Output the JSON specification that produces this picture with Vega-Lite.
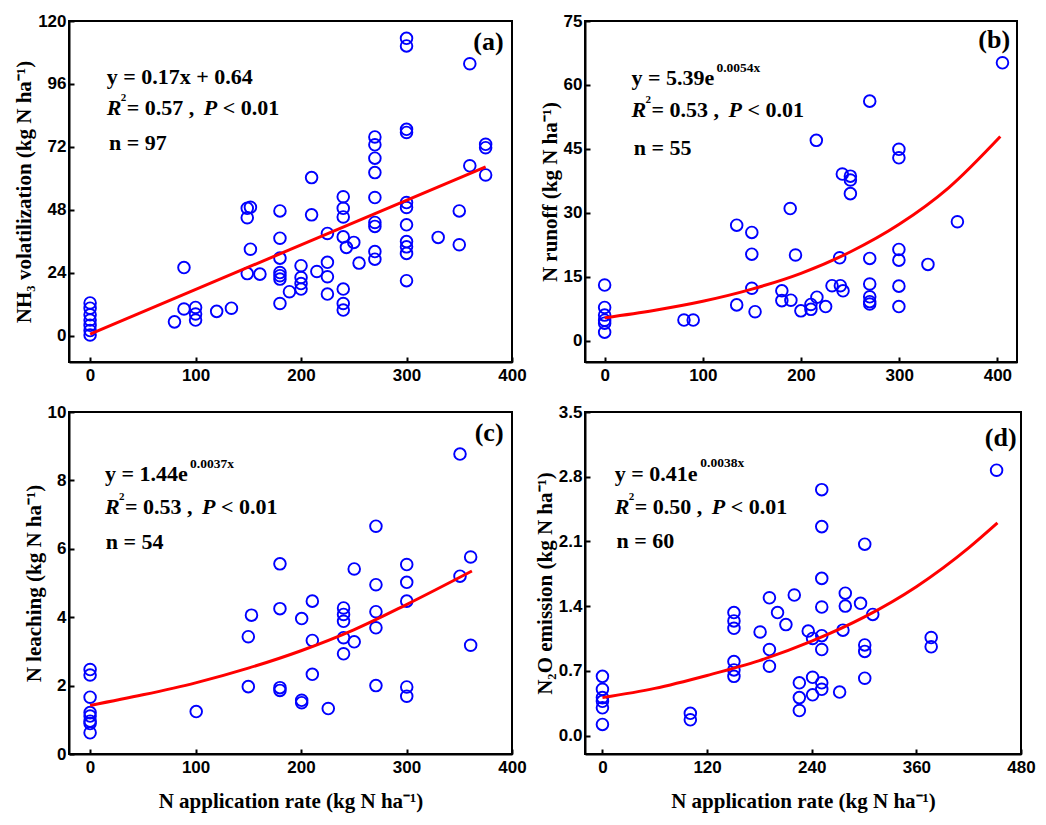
{
  "$schema": "https://vega.github.io/schema/vega-lite/v6.json",
  "padding": {"left": 12, "top": 11, "right": 5, "bottom": 5},
  "background": "white",
  "bounds": "flush",
  "columns": 2,
  "spacing": {"row": 50, "column": 73},
  "config": {
    "view": {"stroke": "black", "strokeWidth": 2},
    "axis": {
      "grid": false,
      "domainColor": "black",
      "domainWidth": 2,
      "tickColor": "black",
      "tickWidth": 2,
      "tickSize": -5,
      "labelFont": "Liberation Sans",
      "labelFontWeight": "bold",
      "labelFontSize": 17,
      "labelColor": "black",
      "labelPadding": 8,
      "labelFlush": false,
      "labelOverlap": false,
      "titleFont": "Liberation Serif",
      "titleFontWeight": "bold",
      "titleFontSize": 21,
      "titleColor": "black",
      "titlePadding": 3
    },
    "axisX": {"labelPadding": 10, "titlePadding": 15},
    "text": {"font": "Liberation Serif", "fontWeight": "bold", "fontSize": 22, "color": "black", "align": "left", "baseline": "middle"}
  },
  "datasets": {
    "pa": [
      {"x":0,"y":12.5},{"x":0,"y":10.5},{"x":0,"y":8},{"x":0,"y":6},{"x":0,"y":4},{"x":0,"y":2},{"x":0,"y":0.3},
      {"x":80,"y":5.3},{"x":89,"y":10.2},{"x":89,"y":26},{"x":100,"y":10.8},{"x":100,"y":8.3},{"x":100,"y":6},{"x":120,"y":9.3},{"x":134,"y":10.5},
      {"x":149,"y":48.6},{"x":152,"y":49},{"x":149,"y":45},{"x":152,"y":33},{"x":149,"y":23.7},{"x":161,"y":23.5},
      {"x":180,"y":47.6},{"x":180,"y":37.2},{"x":180,"y":29.6},{"x":180,"y":24.1},{"x":180,"y":22.9},{"x":180,"y":21.6},{"x":180,"y":12.3},
      {"x":189,"y":16.8},
      {"x":200,"y":26.7},{"x":200,"y":22.2},{"x":200,"y":19.9},{"x":200,"y":17.8},
      {"x":210,"y":60.3},{"x":210,"y":46.1},{"x":215,"y":24.5},
      {"x":225,"y":39},{"x":225,"y":28},{"x":225,"y":22.5},{"x":225,"y":15.9},
      {"x":240,"y":53},{"x":240,"y":48.6},{"x":240,"y":45.3},{"x":240,"y":37.7},{"x":243,"y":33.7},{"x":250,"y":35.6},{"x":240,"y":17.8},{"x":240,"y":12.3},{"x":240,"y":9.8},
      {"x":255,"y":27.7},
      {"x":270,"y":75.8},{"x":270,"y":72.8},{"x":270,"y":67.7},{"x":270,"y":62.2},{"x":270,"y":52.7},{"x":270,"y":43.2},{"x":270,"y":41.7},{"x":270,"y":32.1},{"x":270,"y":29.2},
      {"x":300,"y":113.4},{"x":300,"y":110.5},{"x":300,"y":78.7},{"x":300,"y":77.5},{"x":300,"y":50.8},{"x":300,"y":48.9},{"x":300,"y":42.3},{"x":300,"y":35.9},{"x":300,"y":33.9},{"x":300,"y":31.4},{"x":300,"y":21},
      {"x":330,"y":37.5},{"x":350,"y":47.6},{"x":350,"y":34.7},{"x":360,"y":103.7},{"x":360,"y":64.8},{"x":375,"y":73},{"x":375,"y":71.7},{"x":375,"y":61.3}
    ],
    "pb": [
      {"x":0,"y":13.05},{"x":0,"y":7.8},{"x":0,"y":6.0},{"x":0,"y":4.8},{"x":0,"y":4.1},{"x":0,"y":2.0},
      {"x":80.8,"y":4.85},{"x":90.2,"y":4.85},
      {"x":134.5,"y":27.1},{"x":134.5,"y":8.4},
      {"x":149.9,"y":25.4},{"x":149.9,"y":20.3},{"x":149.9,"y":12.3},{"x":153.2,"y":6.8},
      {"x":180.5,"y":11.7},{"x":180.5,"y":9.4},{"x":189.7,"y":9.5},
      {"x":189,"y":31},{"x":194.4,"y":20.1},{"x":199.9,"y":7.0},
      {"x":210.1,"y":8.5},{"x":210.1,"y":7.35},{"x":216.2,"y":10.2},{"x":225.1,"y":8.0},{"x":215.6,"y":47.0},
      {"x":231.6,"y":12.9},{"x":240.1,"y":12.9},{"x":242.8,"y":11.7},{"x":239.4,"y":19.45},
      {"x":242.1,"y":39.1},{"x":250.3,"y":38.6},{"x":250.3,"y":37.7},{"x":250.3,"y":34.5},
      {"x":270,"y":56.2},{"x":270,"y":19.3},{"x":270,"y":13.3},{"x":270,"y":10.3},{"x":270,"y":9.15},{"x":270,"y":8.6},
      {"x":299.7,"y":44.9},{"x":299.7,"y":42.9},{"x":299.7,"y":21.4},{"x":299.7,"y":18.9},{"x":299.7,"y":12.8},{"x":299.7,"y":8.0},
      {"x":329.3,"y":17.9},{"x":359.3,"y":27.9},{"x":405.2,"y":65.2}
    ],
    "pc": [
      {"x":0,"y":2.47},{"x":0,"y":2.31},{"x":0,"y":1.66},{"x":0,"y":1.21},{"x":0,"y":1.11},{"x":0,"y":0.96},{"x":0,"y":0.89},{"x":0,"y":0.62},
      {"x":100.6,"y":1.24},
      {"x":150,"y":3.43},{"x":153,"y":4.06},{"x":150,"y":1.97},
      {"x":180,"y":5.56},{"x":180,"y":4.25},{"x":180,"y":1.94},{"x":180,"y":1.86},
      {"x":200.6,"y":3.96},{"x":200.6,"y":1.57},{"x":200.6,"y":1.5},
      {"x":210.7,"y":4.47},{"x":210.7,"y":3.32},{"x":210.7,"y":2.33},
      {"x":225.8,"y":1.33},
      {"x":240.3,"y":4.27},{"x":240.3,"y":4.08},{"x":240.3,"y":3.88},{"x":240.3,"y":3.4},{"x":240.3,"y":2.93},
      {"x":250.4,"y":5.41},{"x":250.4,"y":3.28},
      {"x":271,"y":6.66},{"x":271,"y":4.95},{"x":271,"y":4.16},{"x":271,"y":3.69},{"x":271,"y":2.0},
      {"x":300.2,"y":5.54},{"x":300.2,"y":5.02},{"x":300.2,"y":4.47},{"x":300.2,"y":1.96},{"x":300.2,"y":1.69},
      {"x":350.7,"y":8.77},{"x":350.7,"y":5.2},{"x":360.8,"y":5.76},{"x":360.8,"y":3.18}
    ],
    "pd": [
      {"x":0,"y":0.64},{"x":0,"y":0.5},{"x":0,"y":0.41},{"x":0,"y":0.37},{"x":0,"y":0.3},{"x":0,"y":0.12},
      {"x":100.8,"y":0.24},{"x":100.8,"y":0.17},
      {"x":150.8,"y":1.33},{"x":150.8,"y":1.24},{"x":150.8,"y":1.16},{"x":150.8,"y":0.8},{"x":150.8,"y":0.71},{"x":150.8,"y":0.64},
      {"x":180.8,"y":1.12},
      {"x":191.5,"y":1.49},{"x":191.5,"y":0.93},{"x":191.5,"y":0.75},
      {"x":200.8,"y":1.33},{"x":210.4,"y":1.2},{"x":220,"y":1.52},
      {"x":225.8,"y":0.57},{"x":225.8,"y":0.41},{"x":225.8,"y":0.27},
      {"x":236,"y":1.13},{"x":241,"y":1.05},{"x":241,"y":0.63},{"x":241,"y":0.44},
      {"x":251.5,"y":2.66},{"x":251.5,"y":2.26},{"x":251.5,"y":1.7},{"x":251.5,"y":1.39},{"x":251.5,"y":1.08},{"x":251.5,"y":0.93},{"x":251.5,"y":0.57},{"x":251.5,"y":0.5},
      {"x":272,"y":0.47},{"x":275.8,"y":1.14},{"x":278.5,"y":1.54},{"x":278.5,"y":1.4},
      {"x":296,"y":1.43},{"x":300.8,"y":2.07},{"x":300.8,"y":0.98},{"x":300.8,"y":0.91},{"x":300.8,"y":0.62},
      {"x":310,"y":1.31},{"x":377,"y":1.06},{"x":377,"y":0.96},{"x":452,"y":2.87}
    ],
    "fa": [{"x":0,"y":0.64},{"x":375,"y":64.4}],
    "fb": [{"x":0,"y":5.39},{"x":50,"y":7.1},{"x":100,"y":9.25},{"x":150,"y":12.1},{"x":200,"y":15.8},{"x":250,"y":20.8},{"x":300,"y":27.3},{"x":350,"y":35.8},{"x":403,"y":47.9}],
    "fc": [{"x":0,"y":1.42},{"x":50,"y":1.73},{"x":100,"y":2.08},{"x":150,"y":2.51},{"x":200,"y":3.02},{"x":250,"y":3.63},{"x":300,"y":4.37},{"x":362,"y":5.35}],
    "fd": [{"x":0,"y":0.41},{"x":60,"y":0.51},{"x":120,"y":0.65},{"x":180,"y":0.81},{"x":240,"y":1.02},{"x":300,"y":1.28},{"x":360,"y":1.61},{"x":420,"y":2.03},{"x":453,"y":2.3}]
  },
  "concat": [
    {
      "width": 443, "height": 341,
      "layer": [
        {"data": {"name": "pa"}, "mark": {"type": "point", "shape": "circle", "filled": false, "color": "#0000ff", "size": 135, "strokeWidth": 1.9, "opacity": 1},
         "encoding": {
           "x": {"field": "x", "type": "quantitative", "scale": {"domain": [-20, 400], "nice": false, "zero": false}, "axis": {"values": [0,100,200,300,400], "title": null}},
           "y": {"field": "y", "type": "quantitative", "scale": {"domain": [-10, 120], "nice": false, "zero": false}, "axis": {"values": [0,24,48,72,96,120], "title": "NH₃ volatilization (kg N ha⁻¹)"}}}},
        {"data": {"name": "fa"}, "mark": {"type": "line", "color": "#ff0000", "strokeWidth": 3},
         "encoding": {"x": {"field": "x", "type": "quantitative"}, "y": {"field": "y", "type": "quantitative"}}},
        {"data": {"values": [{}]}, "mark": {"type": "text", "text": "y = 0.17x + 0.64"},
         "encoding": {"x": {"datum": 15.7, "type": "quantitative"}, "y": {"datum": 98.5, "type": "quantitative"}}},
        {"data": {"values": [{}]}, "mark": {"type": "text", "text": "R", "fontStyle": "italic"},
         "encoding": {"x": {"datum": 15.7, "type": "quantitative"}, "y": {"datum": 86.7, "type": "quantitative"}}},
        {"data": {"values": [{}]}, "mark": {"type": "text", "text": "2", "fontSize": 11, "dx": 14, "dy": -10},
         "encoding": {"x": {"datum": 15.7, "type": "quantitative"}, "y": {"datum": 86.7, "type": "quantitative"}}},
        {"data": {"values": [{}]}, "mark": {"type": "text", "text": "= 0.57 ,", "dx": 20},
         "encoding": {"x": {"datum": 15.7, "type": "quantitative"}, "y": {"datum": 86.7, "type": "quantitative"}}},
        {"data": {"values": [{}]}, "mark": {"type": "text", "text": "P", "fontStyle": "italic", "dx": 97},
         "encoding": {"x": {"datum": 15.7, "type": "quantitative"}, "y": {"datum": 86.7, "type": "quantitative"}}},
        {"data": {"values": [{}]}, "mark": {"type": "text", "text": "< 0.01", "dx": 116},
         "encoding": {"x": {"datum": 15.7, "type": "quantitative"}, "y": {"datum": 86.7, "type": "quantitative"}}},
        {"data": {"values": [{}]}, "mark": {"type": "text", "text": "n = 97"},
         "encoding": {"x": {"datum": 18, "type": "quantitative"}, "y": {"datum": 73.3, "type": "quantitative"}}},
        {"data": {"values": [{}]}, "mark": {"type": "text", "text": "(a)", "align": "right", "fontSize": 26},
         "encoding": {"x": {"datum": 392, "type": "quantitative"}, "y": {"datum": 112, "type": "quantitative"}}}
      ]
    },
    {
      "width": 432, "height": 341,
      "layer": [
        {"data": {"name": "pb"}, "mark": {"type": "point", "shape": "circle", "filled": false, "color": "#0000ff", "size": 135, "strokeWidth": 1.9, "opacity": 1},
         "encoding": {
           "x": {"field": "x", "type": "quantitative", "scale": {"domain": [-20, 420], "nice": false, "zero": false}, "axis": {"values": [0,100,200,300,400], "title": null}},
           "y": {"field": "y", "type": "quantitative", "scale": {"domain": [-5, 75], "nice": false, "zero": false}, "axis": {"values": [0,15,30,45,60,75], "title": "N runoff (kg N ha⁻¹)"}}}},
        {"data": {"name": "fb"}, "mark": {"type": "line", "color": "#ff0000", "strokeWidth": 3, "interpolate": "monotone"},
         "encoding": {"x": {"field": "x", "type": "quantitative"}, "y": {"field": "y", "type": "quantitative"}}},
        {"data": {"values": [{}]}, "mark": {"type": "text", "text": "y = 5.39e"},
         "encoding": {"x": {"datum": 27.3, "type": "quantitative"}, "y": {"datum": 61.6, "type": "quantitative"}}},
        {"data": {"values": [{}]}, "mark": {"type": "text", "text": "0.0054x", "fontSize": 13.5, "dx": 85, "dy": -10},
         "encoding": {"x": {"datum": 27.3, "type": "quantitative"}, "y": {"datum": 61.6, "type": "quantitative"}}},
        {"data": {"values": [{}]}, "mark": {"type": "text", "text": "R", "fontStyle": "italic"},
         "encoding": {"x": {"datum": 27.3, "type": "quantitative"}, "y": {"datum": 54.2, "type": "quantitative"}}},
        {"data": {"values": [{}]}, "mark": {"type": "text", "text": "2", "fontSize": 11, "dx": 14, "dy": -10},
         "encoding": {"x": {"datum": 27.3, "type": "quantitative"}, "y": {"datum": 54.2, "type": "quantitative"}}},
        {"data": {"values": [{}]}, "mark": {"type": "text", "text": "= 0.53 ,", "dx": 20},
         "encoding": {"x": {"datum": 27.3, "type": "quantitative"}, "y": {"datum": 54.2, "type": "quantitative"}}},
        {"data": {"values": [{}]}, "mark": {"type": "text", "text": "P", "fontStyle": "italic", "dx": 97},
         "encoding": {"x": {"datum": 27.3, "type": "quantitative"}, "y": {"datum": 54.2, "type": "quantitative"}}},
        {"data": {"values": [{}]}, "mark": {"type": "text", "text": "< 0.01", "dx": 116},
         "encoding": {"x": {"datum": 27.3, "type": "quantitative"}, "y": {"datum": 54.2, "type": "quantitative"}}},
        {"data": {"values": [{}]}, "mark": {"type": "text", "text": "n = 55"},
         "encoding": {"x": {"datum": 29.6, "type": "quantitative"}, "y": {"datum": 45.1, "type": "quantitative"}}},
        {"data": {"values": [{}]}, "mark": {"type": "text", "text": "(b)", "align": "right", "fontSize": 26},
         "encoding": {"x": {"datum": 413, "type": "quantitative"}, "y": {"datum": 70.5, "type": "quantitative"}}}
      ]
    },
    {
      "width": 443, "height": 342,
      "layer": [
        {"data": {"name": "pc"}, "mark": {"type": "point", "shape": "circle", "filled": false, "color": "#0000ff", "size": 135, "strokeWidth": 1.9, "opacity": 1},
         "encoding": {
           "x": {"field": "x", "type": "quantitative", "scale": {"domain": [-20, 400], "nice": false, "zero": false}, "axis": {"values": [0,100,200,300,400], "title": "N application rate (kg N ha⁻¹)"}},
           "y": {"field": "y", "type": "quantitative", "scale": {"domain": [0, 10], "nice": false, "zero": false}, "axis": {"values": [0,2,4,6,8,10], "title": "N leaching (kg N ha⁻¹)"}}}},
        {"data": {"name": "fc"}, "mark": {"type": "line", "color": "#ff0000", "strokeWidth": 3, "interpolate": "monotone"},
         "encoding": {"x": {"field": "x", "type": "quantitative"}, "y": {"field": "y", "type": "quantitative"}}},
        {"data": {"values": [{}]}, "mark": {"type": "text", "text": "y = 1.44e"},
         "encoding": {"x": {"datum": 14.2, "type": "quantitative"}, "y": {"datum": 8.18, "type": "quantitative"}}},
        {"data": {"values": [{}]}, "mark": {"type": "text", "text": "0.0037x", "fontSize": 13.5, "dx": 85, "dy": -10.5},
         "encoding": {"x": {"datum": 14.2, "type": "quantitative"}, "y": {"datum": 8.18, "type": "quantitative"}}},
        {"data": {"values": [{}]}, "mark": {"type": "text", "text": "R", "fontStyle": "italic"},
         "encoding": {"x": {"datum": 14.2, "type": "quantitative"}, "y": {"datum": 7.22, "type": "quantitative"}}},
        {"data": {"values": [{}]}, "mark": {"type": "text", "text": "2", "fontSize": 11, "dx": 14, "dy": -10},
         "encoding": {"x": {"datum": 14.2, "type": "quantitative"}, "y": {"datum": 7.22, "type": "quantitative"}}},
        {"data": {"values": [{}]}, "mark": {"type": "text", "text": "= 0.53 ,", "dx": 20},
         "encoding": {"x": {"datum": 14.2, "type": "quantitative"}, "y": {"datum": 7.22, "type": "quantitative"}}},
        {"data": {"values": [{}]}, "mark": {"type": "text", "text": "P", "fontStyle": "italic", "dx": 97},
         "encoding": {"x": {"datum": 14.2, "type": "quantitative"}, "y": {"datum": 7.22, "type": "quantitative"}}},
        {"data": {"values": [{}]}, "mark": {"type": "text", "text": "< 0.01", "dx": 116},
         "encoding": {"x": {"datum": 14.2, "type": "quantitative"}, "y": {"datum": 7.22, "type": "quantitative"}}},
        {"data": {"values": [{}]}, "mark": {"type": "text", "text": "n = 54"},
         "encoding": {"x": {"datum": 14.8, "type": "quantitative"}, "y": {"datum": 6.19, "type": "quantitative"}}},
        {"data": {"values": [{}]}, "mark": {"type": "text", "text": "(c)", "align": "right", "fontSize": 26},
         "encoding": {"x": {"datum": 392, "type": "quantitative"}, "y": {"datum": 9.38, "type": "quantitative"}}}
      ]
    },
    {
      "width": 436, "height": 342,
      "layer": [
        {"data": {"name": "pd"}, "mark": {"type": "point", "shape": "circle", "filled": false, "color": "#0000ff", "size": 135, "strokeWidth": 1.9, "opacity": 1},
         "encoding": {
           "x": {"field": "x", "type": "quantitative", "scale": {"domain": [-20, 480], "nice": false, "zero": false}, "axis": {"values": [0,120,240,360,480], "title": "N application rate (kg N ha⁻¹)"}},
           "y": {"field": "y", "type": "quantitative", "scale": {"domain": [-0.2, 3.5], "nice": false, "zero": false}, "axis": {"values": [0,0.7,1.4,2.1,2.8,3.5], "format": ".1f", "title": "N₂O emission (kg N ha⁻¹)"}}}},
        {"data": {"name": "fd"}, "mark": {"type": "line", "color": "#ff0000", "strokeWidth": 3, "interpolate": "monotone"},
         "encoding": {"x": {"field": "x", "type": "quantitative"}, "y": {"field": "y", "type": "quantitative"}}},
        {"data": {"values": [{}]}, "mark": {"type": "text", "text": "y = 0.41e"},
         "encoding": {"x": {"datum": 14.2, "type": "quantitative"}, "y": {"datum": 2.83, "type": "quantitative"}}},
        {"data": {"values": [{}]}, "mark": {"type": "text", "text": "0.0038x", "fontSize": 13.5, "dx": 85.5, "dy": -10.5},
         "encoding": {"x": {"datum": 14.2, "type": "quantitative"}, "y": {"datum": 2.83, "type": "quantitative"}}},
        {"data": {"values": [{}]}, "mark": {"type": "text", "text": "R", "fontStyle": "italic"},
         "encoding": {"x": {"datum": 14.2, "type": "quantitative"}, "y": {"datum": 2.47, "type": "quantitative"}}},
        {"data": {"values": [{}]}, "mark": {"type": "text", "text": "2", "fontSize": 11, "dx": 14, "dy": -10},
         "encoding": {"x": {"datum": 14.2, "type": "quantitative"}, "y": {"datum": 2.47, "type": "quantitative"}}},
        {"data": {"values": [{}]}, "mark": {"type": "text", "text": "= 0.50 ,", "dx": 20},
         "encoding": {"x": {"datum": 14.2, "type": "quantitative"}, "y": {"datum": 2.47, "type": "quantitative"}}},
        {"data": {"values": [{}]}, "mark": {"type": "text", "text": "P", "fontStyle": "italic", "dx": 97},
         "encoding": {"x": {"datum": 14.2, "type": "quantitative"}, "y": {"datum": 2.47, "type": "quantitative"}}},
        {"data": {"values": [{}]}, "mark": {"type": "text", "text": "< 0.01", "dx": 116},
         "encoding": {"x": {"datum": 14.2, "type": "quantitative"}, "y": {"datum": 2.47, "type": "quantitative"}}},
        {"data": {"values": [{}]}, "mark": {"type": "text", "text": "n = 60"},
         "encoding": {"x": {"datum": 16.1, "type": "quantitative"}, "y": {"datum": 2.10, "type": "quantitative"}}},
        {"data": {"values": [{}]}, "mark": {"type": "text", "text": "(d)", "align": "right", "fontSize": 26},
         "encoding": {"x": {"datum": 475, "type": "quantitative"}, "y": {"datum": 3.22, "type": "quantitative"}}}
      ]
    }
  ]
}
